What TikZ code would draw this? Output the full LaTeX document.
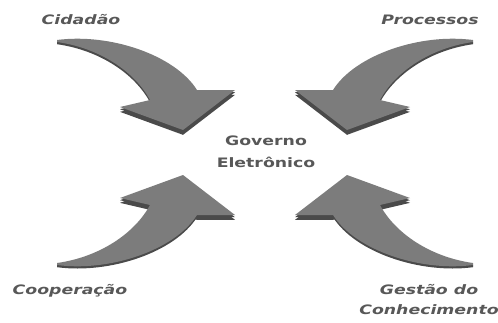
\documentclass[tikz,border=0pt]{standalone}
\usepackage{fontspec}
\usepackage{graphicx}
\setmainfont{DejaVu Sans}
\definecolor{arrowgray}{HTML}{7C7C7C}
\definecolor{arrowdark}{HTML}{4A4A4A}
\definecolor{textgray}{HTML}{585858}
\newcommand\widetext[1]{\scalebox{1.33}[1]{#1}}
\tikzset{
  govarrow/.pic={
    % thin shadow under the whole arrow
    \fill[arrowdark,yshift=#1]
      (57,40) .. controls (110,33) and (175,55) .. (197,90)
      -- (235,90) -- (183,130) -- (120,107) -- (150,100)
      .. controls (135,72) and (100,48) .. (57,42) -- cycle;
    % thicker shadow under the head
    \fill[arrowdark,yshift=2.2*#1]
      (197,90) -- (235,90) -- (183,130) -- (120,107) -- (150,100) -- cycle;
    \fill[arrowgray]
      (57,40) .. controls (110,33) and (175,55) .. (197,90)
      -- (235,90) -- (183,130) -- (120,107) -- (150,100)
      .. controls (135,72) and (100,48) .. (57,42) -- cycle;
  },
  lbl/.style={text=textgray, font=\bfseries\itshape\fontsize{13}{20}\selectfont, inner sep=0pt, align=center},
  centre/.style={text=textgray, font=\bfseries\fontsize{13}{22}\selectfont, inner sep=0pt, align=center}
}
\begin{document}
\begin{tikzpicture}[x=1pt,y=-1pt]
\useasboundingbox (0,0) rectangle (498,322);
\fill[white] (0,0) rectangle (498,322);
% arrows
\pic (a1) {govarrow={-2.2pt}};
\pic[xshift=530pt,xscale=-1] (a2) {govarrow={-2.2pt}};
\pic[yshift=-305pt,yscale=-1] (a3) {govarrow={2.2pt}};
\pic[xshift=530pt,yshift=-305pt,xscale=-1,yscale=-1] (a4) {govarrow={2.2pt}};
% labels
\node[lbl] (cid) at (81,20) {\widetext{Cidadão}};
\node[lbl] (proc) at (430,20) {\widetext{Processos}};
\node[lbl] (coop) at (70,291) {\widetext{Cooperação}};
\node[lbl] (gest) at (429,300) {\widetext{Gestão do}\\\widetext{Conhecimento}};
\node[centre] (gov) at (266,152) {\widetext{Governo}\\\widetext{Eletrônico}};
\end{tikzpicture}
\end{document}
